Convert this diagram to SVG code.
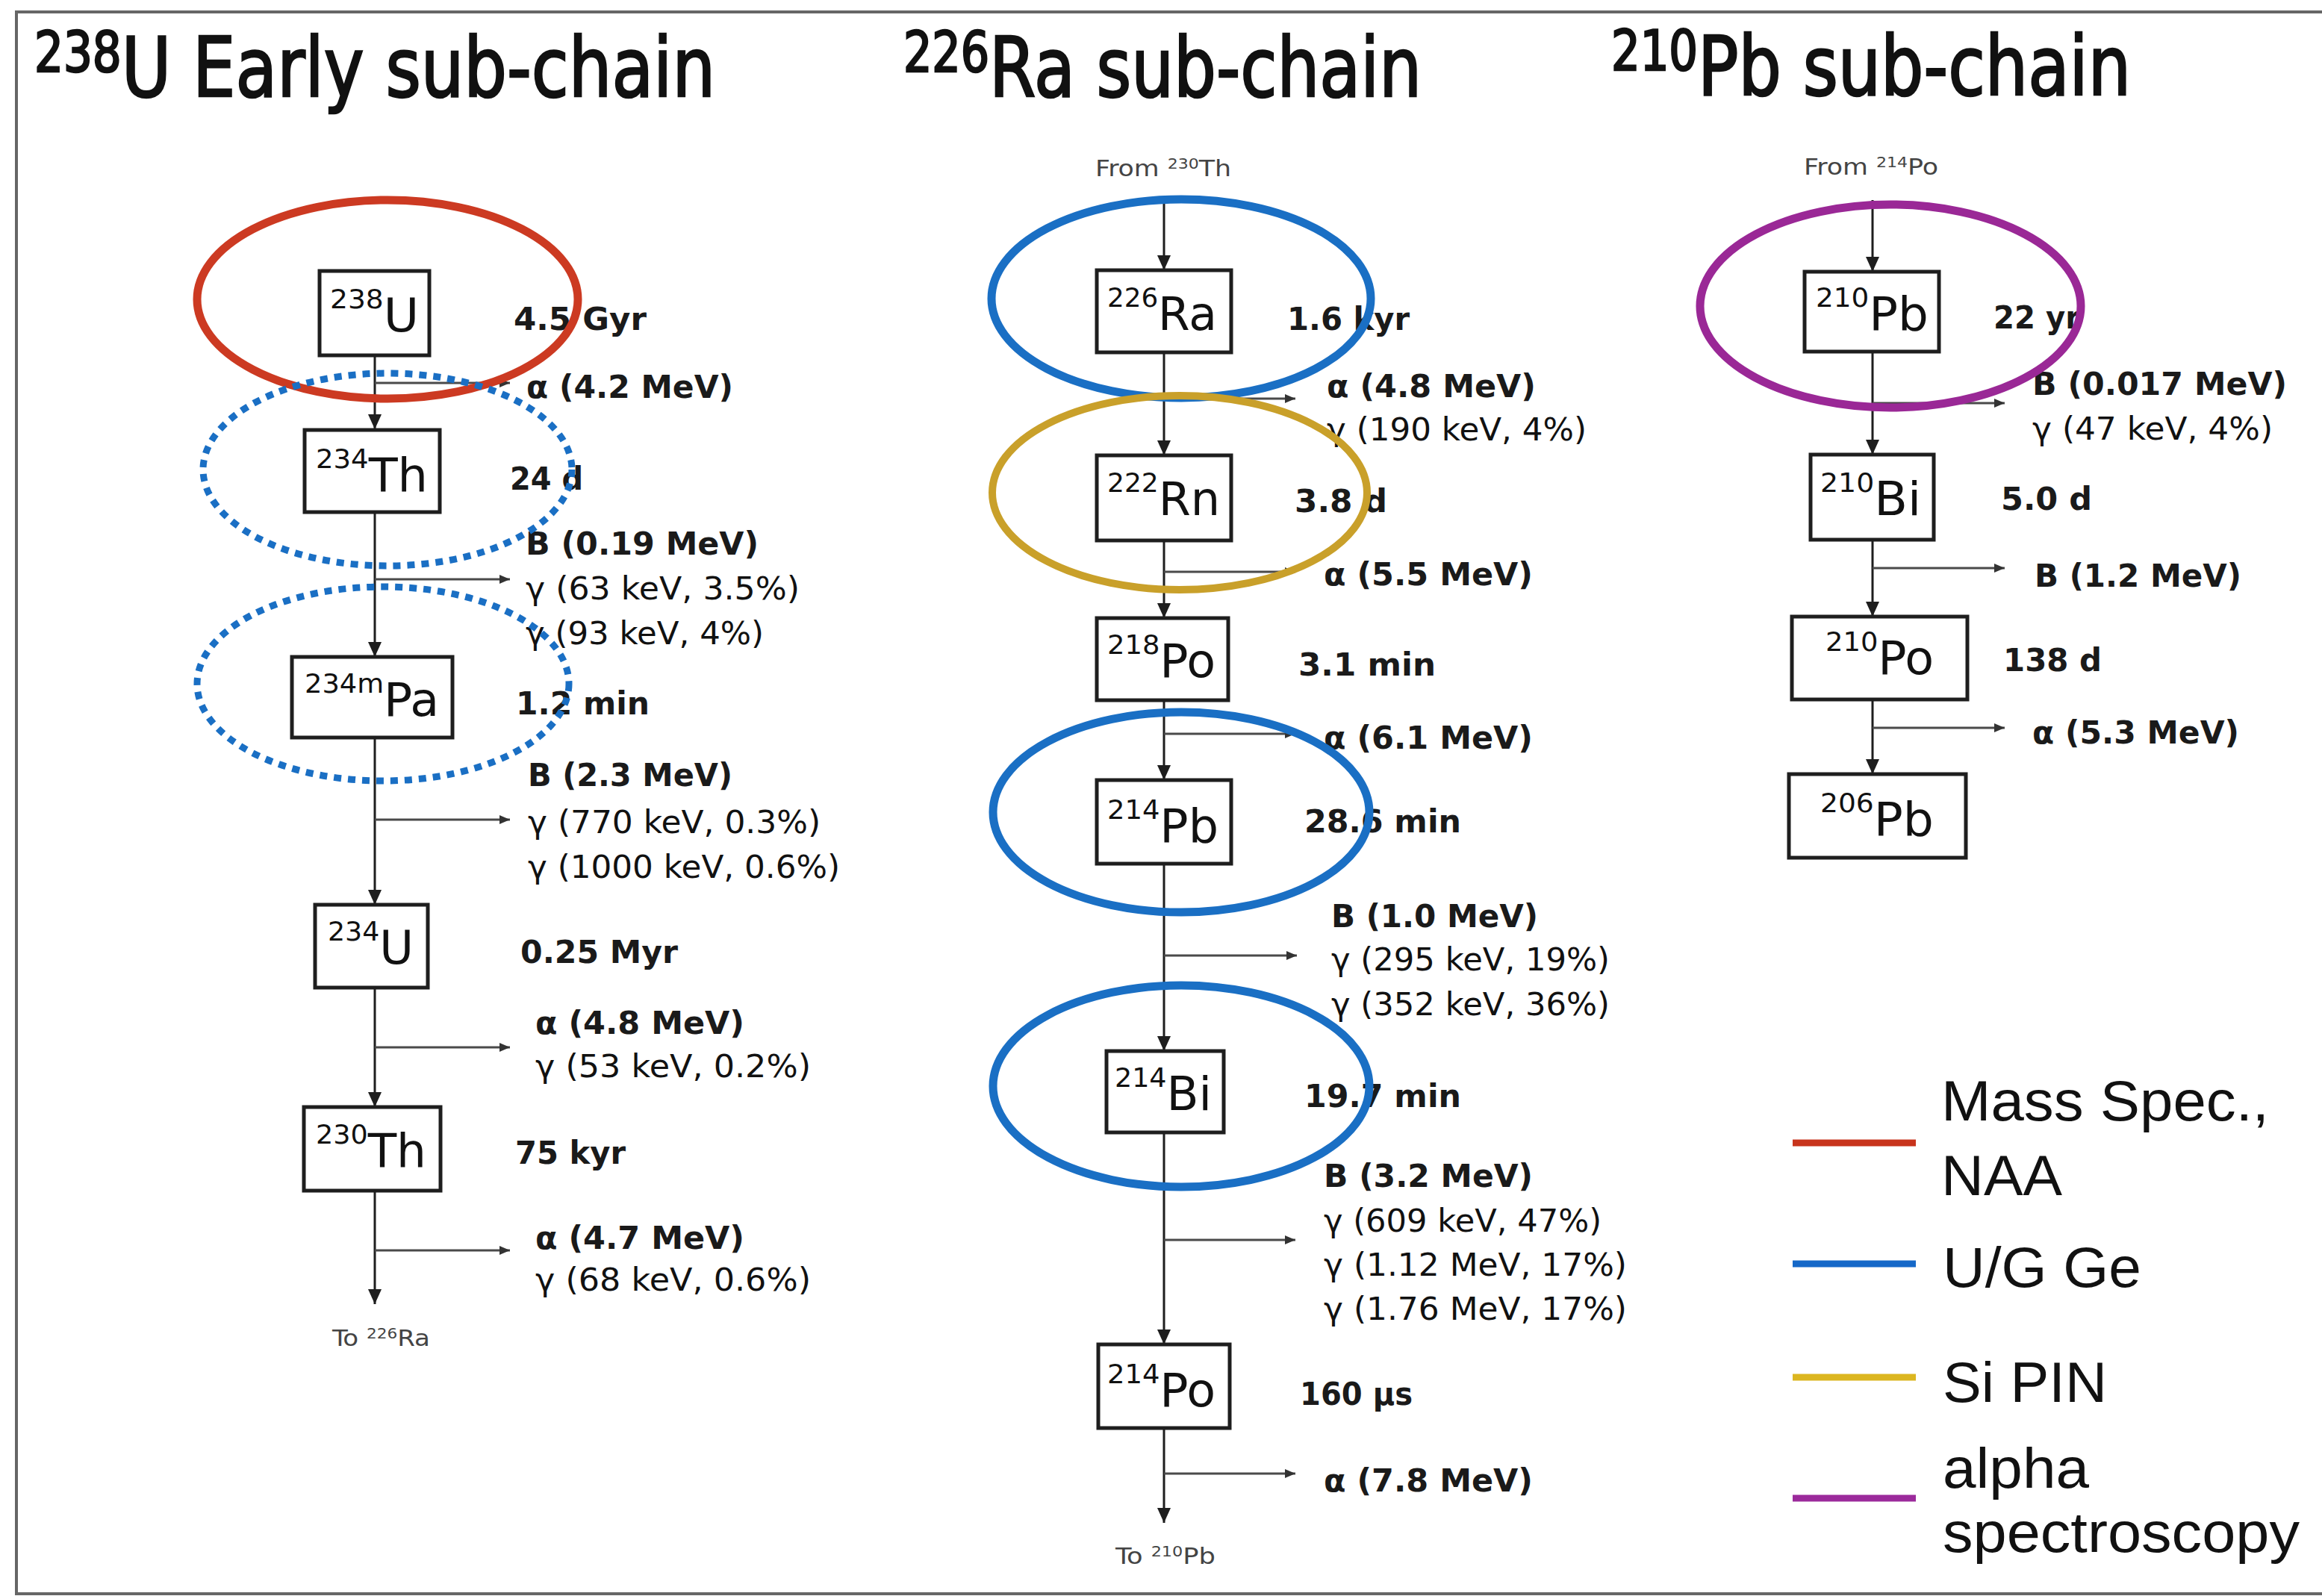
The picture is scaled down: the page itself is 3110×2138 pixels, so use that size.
<svg xmlns="http://www.w3.org/2000/svg" width="3110" height="2138" viewBox="0 0 3110 2138">
<style>
.bg{fill:#fff}
.frame{fill:none;stroke:#666;stroke-width:4}
.box{fill:#fff;stroke:#1e1e1e;stroke-width:5}
.iso{font-family:'DejaVu Sans Condensed','DejaVu Sans',sans-serif;font-size:62px;fill:#111}
.iso .s{font-size:36px}
.title{font-family:'DejaVu Sans Condensed','DejaVu Sans',sans-serif;font-size:110px;fill:#111;stroke:#111;stroke-width:2.5}
.title .s{font-size:74px}
.b{font-family:'DejaVu Sans',sans-serif;font-weight:bold;font-size:42px;fill:#1a1a1a}
.r{font-family:'DejaVu Sans',sans-serif;font-size:42px;fill:#111}
.small{font-family:'DejaVu Sans Condensed','DejaVu Sans',sans-serif;font-size:30px;fill:#444}
.small .s{font-size:19px}
.main{fill:none;stroke:#1e1e1e;stroke-width:3}
.branch{fill:none;stroke:#4a4a4a;stroke-width:3}
.ell{fill:none}
.red{stroke:#cc3a22;stroke-width:11}
.blue{stroke:#1a6fc4;stroke-width:11}
.dot{stroke:#1a6fc4;stroke-width:9;stroke-dasharray:10 9}
.gold{stroke:#c9a02a;stroke-width:10}
.purple{stroke:#9a2896;stroke-width:11}
.leg{font-family:'Liberation Sans',Arial,sans-serif;font-size:76px;fill:#111}
.legline{stroke-width:9}
</style>
<defs>
<marker id="ah" viewBox="0 0 20 18" refX="20" refY="9" markerWidth="20" markerHeight="18" markerUnits="userSpaceOnUse" orient="auto"><path d="M0,0 L20,9 L0,18 z" fill="#1e1e1e"/></marker>
<marker id="ahs" viewBox="0 0 14 12" refX="14" refY="6" markerWidth="14" markerHeight="12" markerUnits="userSpaceOnUse" orient="auto"><path d="M0,0 L14,6 L0,12 z" fill="#333"/></marker>
</defs>
<rect class="bg" x="0" y="0" width="3110" height="2138"/>
<path class="frame" d="M3110,16 H22 V2135 H3110"/>

<g id="titles">
<text class="title" x="46" y="129" textLength="912" lengthAdjust="spacingAndGlyphs"><tspan class="s" dy="-33">238</tspan><tspan dy="33">U Early sub-chain</tspan></text>
<text class="title" x="1210" y="129" textLength="694" lengthAdjust="spacingAndGlyphs"><tspan class="s" dy="-33">226</tspan><tspan dy="33">Ra sub-chain</tspan></text>
<text class="title" x="2158" y="127" textLength="696" lengthAdjust="spacingAndGlyphs"><tspan class="s" dy="-33">210</tspan><tspan dy="33">Pb sub-chain</tspan></text>
</g>

<g id="connectors">
<line class="main" x1="502" y1="476" x2="502" y2="575" marker-end="url(#ah)"/>
<line class="branch" x1="502" y1="513" x2="683" y2="513" marker-end="url(#ahs)"/>
<line class="main" x1="502" y1="686" x2="502" y2="880" marker-end="url(#ah)"/>
<line class="branch" x1="502" y1="776" x2="683" y2="776" marker-end="url(#ahs)"/>
<line class="main" x1="502" y1="988" x2="502" y2="1212" marker-end="url(#ah)"/>
<line class="branch" x1="502" y1="1098" x2="683" y2="1098" marker-end="url(#ahs)"/>
<line class="main" x1="502" y1="1323" x2="502" y2="1483" marker-end="url(#ah)"/>
<line class="branch" x1="502" y1="1403" x2="683" y2="1403" marker-end="url(#ahs)"/>
<line class="main" x1="502" y1="1595" x2="502" y2="1747" marker-end="url(#ah)"/>
<line class="branch" x1="502" y1="1675" x2="683" y2="1675" marker-end="url(#ahs)"/>
<line class="main" x1="1559" y1="268" x2="1559" y2="362" marker-end="url(#ah)"/>
<line class="main" x1="1559" y1="472" x2="1559" y2="610" marker-end="url(#ah)"/>
<line class="branch" x1="1559" y1="534" x2="1735" y2="534" marker-end="url(#ahs)"/>
<line class="main" x1="1559" y1="724" x2="1559" y2="828" marker-end="url(#ah)"/>
<line class="branch" x1="1559" y1="766" x2="1735" y2="766" marker-end="url(#ahs)"/>
<line class="main" x1="1559" y1="938" x2="1559" y2="1045" marker-end="url(#ah)"/>
<line class="branch" x1="1559" y1="983" x2="1735" y2="983" marker-end="url(#ahs)"/>
<line class="main" x1="1559" y1="1157" x2="1559" y2="1408" marker-end="url(#ah)"/>
<line class="branch" x1="1559" y1="1280" x2="1737" y2="1280" marker-end="url(#ahs)"/>
<line class="main" x1="1559" y1="1517" x2="1559" y2="1801" marker-end="url(#ah)"/>
<line class="branch" x1="1559" y1="1661" x2="1735" y2="1661" marker-end="url(#ahs)"/>
<line class="main" x1="1559" y1="1913" x2="1559" y2="2040" marker-end="url(#ah)"/>
<line class="branch" x1="1559" y1="1974" x2="1735" y2="1974" marker-end="url(#ahs)"/>
<line class="main" x1="2508" y1="268" x2="2508" y2="364" marker-end="url(#ah)"/>
<line class="main" x1="2508" y1="471" x2="2508" y2="609" marker-end="url(#ah)"/>
<line class="branch" x1="2508" y1="540" x2="2685" y2="540" marker-end="url(#ahs)"/>
<line class="main" x1="2508" y1="723" x2="2508" y2="826" marker-end="url(#ah)"/>
<line class="branch" x1="2508" y1="761" x2="2685" y2="761" marker-end="url(#ahs)"/>
<line class="main" x1="2508" y1="937" x2="2508" y2="1037" marker-end="url(#ah)"/>
<line class="branch" x1="2508" y1="975" x2="2685" y2="975" marker-end="url(#ahs)"/>
</g>

<g id="node-U238"><rect class="box" x="428" y="363" width="147" height="113"/><text class="iso" x="442" y="444" textLength="119" lengthAdjust="spacingAndGlyphs"><tspan class="s" dy="-31">238</tspan><tspan dy="31">U</tspan></text><text class="b" x="688" y="442" textLength="178" lengthAdjust="spacingAndGlyphs">4.5 Gyr</text></g>
<g id="node-Th234"><rect class="box" x="408" y="576" width="181" height="110"/><text class="iso" x="423" y="658" textLength="150" lengthAdjust="spacingAndGlyphs"><tspan class="s" dy="-31">234</tspan><tspan dy="31">Th</tspan></text><text class="b" x="683" y="656" textLength="98" lengthAdjust="spacingAndGlyphs">24 d</text></g>
<g id="node-Pa234m"><rect class="box" x="391" y="880" width="215" height="108"/><text class="iso" x="408" y="959" textLength="180" lengthAdjust="spacingAndGlyphs"><tspan class="s" dy="-31">234m</tspan><tspan dy="31">Pa</tspan></text><text class="b" x="691" y="957" textLength="179" lengthAdjust="spacingAndGlyphs">1.2 min</text></g>
<g id="node-U234"><rect class="box" x="422" y="1212" width="151" height="111"/><text class="iso" x="439" y="1291" textLength="115" lengthAdjust="spacingAndGlyphs"><tspan class="s" dy="-31">234</tspan><tspan dy="31">U</tspan></text><text class="b" x="697" y="1290" textLength="211" lengthAdjust="spacingAndGlyphs">0.25 Myr</text></g>
<g id="node-Th230"><rect class="box" x="407" y="1483" width="183" height="112"/><text class="iso" x="423" y="1563" textLength="148" lengthAdjust="spacingAndGlyphs"><tspan class="s" dy="-31">230</tspan><tspan dy="31">Th</tspan></text><text class="b" x="690" y="1559" textLength="148" lengthAdjust="spacingAndGlyphs">75 kyr</text></g>

<g id="node-Ra226"><rect class="box" x="1469" y="362" width="180" height="110"/><text class="iso" x="1483" y="442" textLength="147" lengthAdjust="spacingAndGlyphs"><tspan class="s" dy="-31">226</tspan><tspan dy="31">Ra</tspan></text><text class="b" x="1724" y="442" textLength="164" lengthAdjust="spacingAndGlyphs">1.6 kyr</text></g>
<g id="node-Rn222"><rect class="box" x="1469" y="610" width="180" height="114"/><text class="iso" x="1483" y="690" textLength="151" lengthAdjust="spacingAndGlyphs"><tspan class="s" dy="-31">222</tspan><tspan dy="31">Rn</tspan></text><text class="b" x="1734" y="686" textLength="124" lengthAdjust="spacingAndGlyphs">3.8 d</text></g>
<g id="node-Po218"><rect class="box" x="1469" y="828" width="176" height="110"/><text class="iso" x="1483" y="907" textLength="145" lengthAdjust="spacingAndGlyphs"><tspan class="s" dy="-31">218</tspan><tspan dy="31">Po</tspan></text><text class="b" x="1739" y="905" textLength="184" lengthAdjust="spacingAndGlyphs">3.1 min</text></g>
<g id="node-Pb214"><rect class="box" x="1469" y="1045" width="180" height="112"/><text class="iso" x="1483" y="1128" textLength="149" lengthAdjust="spacingAndGlyphs"><tspan class="s" dy="-31">214</tspan><tspan dy="31">Pb</tspan></text><text class="b" x="1747" y="1115" textLength="210" lengthAdjust="spacingAndGlyphs">28.6 min</text></g>
<g id="node-Bi214"><rect class="box" x="1482" y="1408" width="157" height="109"/><text class="iso" x="1493" y="1487" textLength="130" lengthAdjust="spacingAndGlyphs"><tspan class="s" dy="-31">214</tspan><tspan dy="31">Bi</tspan></text><text class="b" x="1747" y="1483" textLength="210" lengthAdjust="spacingAndGlyphs">19.7 min</text></g>
<g id="node-Po214"><rect class="box" x="1471" y="1801" width="176" height="112"/><text class="iso" x="1483" y="1884" textLength="145" lengthAdjust="spacingAndGlyphs"><tspan class="s" dy="-31">214</tspan><tspan dy="31">Po</tspan></text><text class="b" x="1741" y="1882" textLength="151" lengthAdjust="spacingAndGlyphs">160 μs</text></g>

<g id="node-Pb210"><rect class="box" x="2417" y="364" width="180" height="107"/><text class="iso" x="2432" y="442" textLength="151" lengthAdjust="spacingAndGlyphs"><tspan class="s" dy="-31">210</tspan><tspan dy="31">Pb</tspan></text><text class="b" x="2670" y="440" textLength="116" lengthAdjust="spacingAndGlyphs">22 yr</text></g>
<g id="node-Bi210"><rect class="box" x="2425" y="609" width="165" height="114"/><text class="iso" x="2438" y="690" textLength="135" lengthAdjust="spacingAndGlyphs"><tspan class="s" dy="-31">210</tspan><tspan dy="31">Bi</tspan></text><text class="b" x="2680" y="683" textLength="122" lengthAdjust="spacingAndGlyphs">5.0 d</text></g>
<g id="node-Po210"><rect class="box" x="2400" y="826" width="235" height="111"/><text class="iso" x="2445" y="903" textLength="145" lengthAdjust="spacingAndGlyphs"><tspan class="s" dy="-31">210</tspan><tspan dy="31">Po</tspan></text><text class="b" x="2683" y="899" textLength="132" lengthAdjust="spacingAndGlyphs">138 d</text></g>
<g id="node-Pb206"><rect class="box" x="2396" y="1037" width="237" height="112"/><text class="iso" x="2438" y="1119" textLength="152" lengthAdjust="spacingAndGlyphs"><tspan class="s" dy="-31">206</tspan><tspan dy="31">Pb</tspan></text></g>

<g id="decay-labels">
<text class="b" x="705" y="533" textLength="277" lengthAdjust="spacingAndGlyphs">α (4.2 MeV)</text>
<text class="b" x="704" y="743" textLength="312" lengthAdjust="spacingAndGlyphs">B (0.19 MeV)</text>
<text class="r" x="704" y="803" textLength="367" lengthAdjust="spacingAndGlyphs">γ (63 keV, 3.5%)</text>
<text class="r" x="704" y="863" textLength="319" lengthAdjust="spacingAndGlyphs">γ (93 keV, 4%)</text>
<text class="b" x="707" y="1053" textLength="274" lengthAdjust="spacingAndGlyphs">B (2.3 MeV)</text>
<text class="r" x="707" y="1116" textLength="392" lengthAdjust="spacingAndGlyphs">γ (770 keV, 0.3%)</text>
<text class="r" x="707" y="1176" textLength="418" lengthAdjust="spacingAndGlyphs">γ (1000 keV, 0.6%)</text>
<text class="b" x="717" y="1385" textLength="280" lengthAdjust="spacingAndGlyphs">α (4.8 MeV)</text>
<text class="r" x="717" y="1443" textLength="369" lengthAdjust="spacingAndGlyphs">γ (53 keV, 0.2%)</text>
<text class="b" x="717" y="1673" textLength="280" lengthAdjust="spacingAndGlyphs">α (4.7 MeV)</text>
<text class="r" x="717" y="1729" textLength="369" lengthAdjust="spacingAndGlyphs">γ (68 keV, 0.6%)</text>
<text class="small" x="445" y="1803" textLength="131" lengthAdjust="spacingAndGlyphs">To <tspan class="s" dy="-10">226</tspan><tspan dy="10">Ra</tspan></text>

<text class="small" x="1467" y="236" textLength="182" lengthAdjust="spacingAndGlyphs">From <tspan class="s" dy="-10">230</tspan><tspan dy="10">Th</tspan></text>
<text class="b" x="1777" y="532" textLength="280" lengthAdjust="spacingAndGlyphs">α (4.8 MeV)</text>
<text class="r" x="1777" y="590" textLength="348" lengthAdjust="spacingAndGlyphs">γ (190 keV, 4%)</text>
<text class="b" x="1773" y="784" textLength="280" lengthAdjust="spacingAndGlyphs">α (5.5 MeV)</text>
<text class="b" x="1773" y="1003" textLength="280" lengthAdjust="spacingAndGlyphs">α (6.1 MeV)</text>
<text class="b" x="1783" y="1242" textLength="277" lengthAdjust="spacingAndGlyphs">B (1.0 MeV)</text>
<text class="r" x="1783" y="1300" textLength="373" lengthAdjust="spacingAndGlyphs">γ (295 keV, 19%)</text>
<text class="r" x="1783" y="1360" textLength="373" lengthAdjust="spacingAndGlyphs">γ (352 keV, 36%)</text>
<text class="b" x="1773" y="1590" textLength="280" lengthAdjust="spacingAndGlyphs">B (3.2 MeV)</text>
<text class="r" x="1773" y="1650" textLength="372" lengthAdjust="spacingAndGlyphs">γ (609 keV, 47%)</text>
<text class="r" x="1773" y="1709" textLength="406" lengthAdjust="spacingAndGlyphs">γ (1.12 MeV, 17%)</text>
<text class="r" x="1773" y="1768" textLength="406" lengthAdjust="spacingAndGlyphs">γ (1.76 MeV, 17%)</text>
<text class="b" x="1773" y="1998" textLength="280" lengthAdjust="spacingAndGlyphs">α (7.8 MeV)</text>
<text class="small" x="1494" y="2095" textLength="134" lengthAdjust="spacingAndGlyphs">To <tspan class="s" dy="-10">210</tspan><tspan dy="10">Pb</tspan></text>

<text class="small" x="2416" y="234" textLength="180" lengthAdjust="spacingAndGlyphs">From <tspan class="s" dy="-10">214</tspan><tspan dy="10">Po</tspan></text>
<text class="b" x="2722" y="529" textLength="341" lengthAdjust="spacingAndGlyphs">B (0.017 MeV)</text>
<text class="r" x="2722" y="589" textLength="322" lengthAdjust="spacingAndGlyphs">γ (47 keV, 4%)</text>
<text class="b" x="2725" y="786" textLength="277" lengthAdjust="spacingAndGlyphs">B (1.2 MeV)</text>
<text class="b" x="2722" y="996" textLength="277" lengthAdjust="spacingAndGlyphs">α (5.3 MeV)</text>
</g>

<g id="detection-markers">
<ellipse class="ell red" cx="519" cy="401" rx="255" ry="133"/>
<ellipse class="ell dot" cx="519" cy="629" rx="247" ry="129"/>
<ellipse class="ell dot" cx="513" cy="916" rx="249" ry="130"/>
<ellipse class="ell blue" cx="1582" cy="400" rx="254" ry="133"/>
<ellipse class="ell gold" cx="1580" cy="660" rx="251" ry="130"/>
<ellipse class="ell blue" cx="1582" cy="1088" rx="252" ry="134"/>
<ellipse class="ell blue" cx="1582" cy="1455" rx="252" ry="135"/>
<ellipse class="ell purple" cx="2532" cy="410" rx="255" ry="136"/>
</g>

<g id="legend">
<line class="legline" x1="2401" y1="1531" x2="2566" y2="1531" stroke="#c8341c"/>
<text class="leg" x="2600" y="1501" textLength="439" lengthAdjust="spacingAndGlyphs">Mass Spec.,</text>
<text class="leg" x="2600" y="1601" textLength="162" lengthAdjust="spacingAndGlyphs">NAA</text>
<line class="legline" x1="2401" y1="1693" x2="2566" y2="1693" stroke="#1568c8"/>
<text class="leg" x="2602" y="1724" textLength="266" lengthAdjust="spacingAndGlyphs">U/G Ge</text>
<line class="legline" x1="2401" y1="1845" x2="2566" y2="1845" stroke="#dcb620"/>
<text class="leg" x="2602" y="1878" textLength="220" lengthAdjust="spacingAndGlyphs">Si PIN</text>
<line class="legline" x1="2401" y1="2007" x2="2566" y2="2007" stroke="#9b2a9b"/>
<text class="leg" x="2602" y="1993" textLength="196" lengthAdjust="spacingAndGlyphs">alpha</text>
<text class="leg" x="2602" y="2079" textLength="478" lengthAdjust="spacingAndGlyphs">spectroscopy</text>
</g>
</svg>
